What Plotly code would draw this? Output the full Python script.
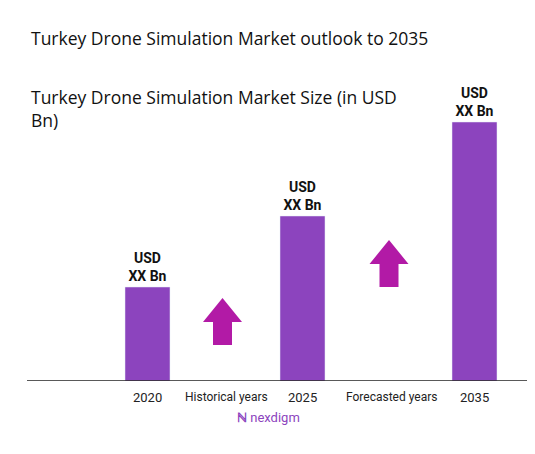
import plotly.graph_objects as go

# chart data
years = ["2020", "2025", "2035"]
market_size = [94, 165, 259]  # relative bar heights, values shown as "XX"
value_labels = ["<b>USD</b><br><b>XX Bn</b>"] * 3
bar_pos = [120.5, 275.5, 447.5]
period_labels = ["Historical years", "Forecasted years"]
period_pos = [199, 364]

fig = go.Figure()
fig.add_trace(go.Bar(x=bar_pos, y=market_size, width=45, marker_color="#8c44be",
                     text=value_labels, textposition="outside",
                     textfont=dict(family="Roboto", size=14, color="#111"),
                     cliponaxis=False, hoverinfo="skip"))

# year and period labels under the baseline
for p, t in zip(bar_pos, years):
    fig.add_annotation(x=p, y=0, yref="paper", yshift=-16, text=t, showarrow=False,
                       yanchor="middle", font=dict(family="Roboto", size=13, color="#222"))
for p, t in zip(period_pos, period_labels):
    fig.add_annotation(x=p, y=0, yref="paper", yshift=-16, text=t, showarrow=False,
                       yanchor="middle", font=dict(family="Roboto", size=12, color="#222"))


# growth arrows
def arrow(cx, top):
    return (f"M {cx-19.5},{top-24} L {cx},{top} L {cx+19.5},{top-24} "
            f"L {cx+9.5},{top-24} L {cx+9.5},{top-47} L {cx-9.5},{top-47} "
            f"L {cx-9.5},{top-24} Z")


for cx, top in [(195.5, 83), (362, 141)]:
    fig.add_shape(type="path", path=arrow(cx, top), fillcolor="#b21aa6",
                  line=dict(width=0), xref="x", yref="y")

fig.add_shape(type="line", x0=0, x1=503, y0=0, y1=0, xref="x", yref="y",
              line=dict(color="#222", width=1.5))

fig.add_annotation(xref="paper", yref="paper", x=0, xshift=2, y=1, yshift=22,
                   xanchor="left", yanchor="middle",
                   text="Turkey Drone Simulation Market outlook to 2035",
                   showarrow=False, font=dict(family="Open Sans", size=17.5, color="#111"))
fig.add_annotation(xref="paper", yref="paper", x=0, xshift=2, y=1, yshift=-48,
                   xanchor="left", yanchor="middle", align="left",
                   text="Turkey Drone Simulation Market Size (in USD<br>Bn)",
                   showarrow=False, font=dict(family="Open Sans", size=17.5, color="#111"))
fig.add_annotation(xref="paper", yref="paper", x=0.48, y=0, yshift=-36, xanchor="center",
                   yanchor="middle", text="<b>ℕ</b> nexdigm", showarrow=False,
                   font=dict(family="Roboto", size=13, color="#8c44be"))

fig.update_layout(width=535, height=454, margin=dict(l=19, r=13, t=52, b=81),
                  plot_bgcolor="white", paper_bgcolor="white", showlegend=False,
                  xaxis=dict(range=[0, 503], visible=False),
                  yaxis=dict(range=[0, 321], visible=False))
fig.write_html("out.html")
